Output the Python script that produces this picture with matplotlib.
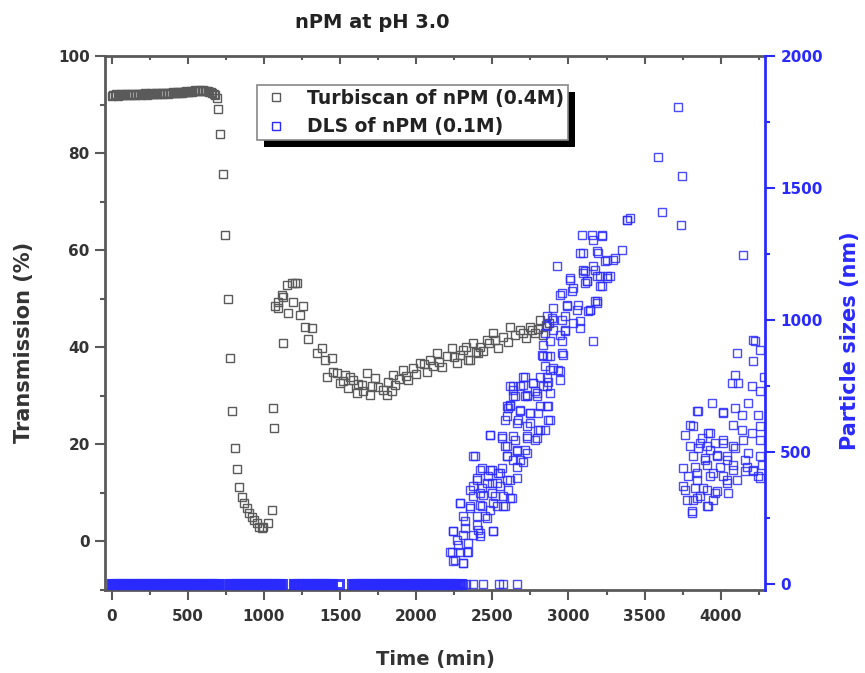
import matplotlib
matplotlib.use('Agg')
import matplotlib.pyplot as plt
from matplotlib.ticker import MultipleLocator
from matplotlib.patches import Rectangle
from matplotlib.lines import Line2D

plt.rcParams['font.family'] = ['DejaVu Sans']
plt.rcParams['font.weight'] = 'bold'

# ---------------- data ----------------
title = "nPM at pH 3.0"
xlabel = "Time (min)"
ylabel_left = "Transmission (%)"
ylabel_right = "Particle sizes (nm)"
legend_labels = ["Turbiscan of nPM (0.4M)", "DLS of nPM (0.1M)"]

# Turbiscan transmission (%) vs time (min)
turb_t = [0, 10, 20, 30, 40, 50, 60, 70, 80, 90, 100, 110, 120, 130, 140, 150, 160, 170, 180, 190,
          200, 210, 220, 230, 240, 250, 260, 270, 280, 290, 300, 310, 320, 330, 340, 350, 360, 370, 380, 390,
          400, 410, 420, 430, 440, 450, 460, 470, 480, 490, 500, 510, 520, 530, 540, 550, 560, 570, 580, 590,
          600, 610, 620, 630, 640, 650, 660, 670, 680,
          690, 700, 711, 729, 744, 762, 777, 792, 808, 821, 836, 854, 871, 887, 904, 920, 937, 952, 970, 985,
          996, 1029, 1051, 1062, 1066, 1073, 1094, 1094, 1117, 1123, 1127, 1149, 1160, 1182, 1193, 1204, 1219,
          1237, 1254, 1270, 1291, 1314, 1346, 1379, 1401, 1412, 1445, 1456, 1478, 1500, 1520, 1532, 1554,
          1565, 1587, 1609, 1620, 1642, 1653, 1675, 1697, 1710, 1729, 1751, 1780, 1806, 1817, 1840, 1850,
          1861, 1890, 1915, 1930, 1948, 1981, 2000, 2025, 2050, 2069, 2091, 2110, 2135, 2150, 2168, 2200,
          2233, 2250, 2266, 2290, 2310, 2330, 2342, 2353, 2375, 2390, 2408, 2419, 2440, 2463, 2480, 2506,
          2520, 2539, 2572, 2600, 2616, 2650, 2682, 2700, 2720, 2747, 2760, 2780, 2800, 2813, 2835, 2850, 2870]
turb_v = [91.8, 92.0, 91.9, 92.1, 91.8, 92.0, 92.1, 91.9, 92.0, 92.2, 91.9, 92.1, 92.0, 92.2, 92.0, 92.1,
          91.9, 92.2, 92.1, 92.0, 92.2, 92.1, 92.3, 92.0, 92.2, 92.1, 92.3, 92.2, 92.1, 92.3, 92.2, 92.4,
          92.1, 92.3, 92.2, 92.4, 92.3, 92.2, 92.4, 92.3, 92.5, 92.3, 92.4, 92.6, 92.3, 92.5, 92.4, 92.6,
          92.5, 92.7, 92.5, 92.6, 92.8, 92.6, 92.7, 92.9, 92.7, 92.8, 92.9, 92.8, 92.9, 92.7, 92.8, 92.7,
          92.6, 92.6, 92.4, 92.2, 91.9,
          91.3, 89.0, 83.9, 75.6, 63.1, 49.9, 37.7, 26.9, 19.3, 14.9, 11.3, 9.2, 8.0, 6.8, 5.8, 5.1, 4.4,
          3.7, 3.0, 2.7, 2.9, 3.7, 6.5, 27.4, 23.4, 48.4, 49.4, 48.0, 50.8, 40.8, 50.4, 52.8, 47.0, 53.2,
          49.4, 53.2, 53.2, 46.7, 48.4, 44.2, 41.8, 43.9, 38.8, 39.8, 37.4, 33.9, 37.7, 35.0, 34.6, 32.6,
          33.0, 34.3, 31.6, 33.8, 33.3, 30.5, 32.5, 32.2, 30.9, 34.6, 30.2, 32.0, 33.6, 31.9, 31.2, 30.2,
          32.9, 31.0, 34.3, 32.2, 33.5, 35.3, 34.0, 33.3, 35.7, 34.5, 36.7, 36.5, 35.0, 37.4, 36.2, 38.8,
          37.0, 36.0, 38.1, 39.8, 38.0, 36.7, 38.5, 39.4, 40.0, 37.4, 37.4, 40.8, 39.0, 38.8, 40.1, 39.3,
          41.5, 40.8, 42.9, 41.5, 39.8, 42.2, 41.0, 44.2, 42.5, 43.6, 43.0, 42.0, 44.2, 43.5, 42.9, 43.8,
          45.6, 42.5, 44.5, 45.0]

# DLS particle size (nm) vs time (min): samples recorded at 0 nm
dls_zero_t = [0, 10, 20, 30, 40, 50, 60, 70, 80, 90, 100, 110, 120, 130, 140, 150, 160, 170, 180, 190,
              200, 210, 220, 230, 240, 250, 260, 270, 280, 290, 300, 310, 320, 330, 340, 350, 360, 370, 380,
              390, 400, 410, 420, 430, 440, 450, 460, 470, 480, 490, 500, 510, 520, 530, 540, 550, 560, 570,
              580, 590, 600, 610, 620, 630, 640, 650, 660, 670, 680, 690, 700,
              766, 776, 786, 796, 806, 816, 826, 836, 846, 856, 866, 876, 886, 896, 906, 916, 926, 936, 946,
              956, 966, 976, 986, 996, 1006, 1016, 1026, 1036, 1046, 1056, 1066, 1076, 1086, 1096, 1106, 1116,
              1196, 1206, 1216, 1226, 1236, 1246, 1256, 1266, 1276, 1286, 1296, 1306, 1316, 1326, 1336, 1346,
              1356, 1366, 1376, 1386, 1396, 1406, 1416, 1426, 1436, 1446, 1495,
              1580, 1590, 1600, 1610, 1620, 1630, 1640, 1650, 1660, 1670, 1680, 1690, 1700, 1710, 1720, 1730,
              1740, 1750, 1760, 1770, 1780, 1790, 1800, 1810, 1820, 1830, 1840, 1850, 1860, 1870, 1880, 1890,
              1900, 1910, 1920, 1930, 1940, 1950, 1960, 1970, 1980, 1990, 2000, 2010, 2020, 2030, 2040, 2050,
              2060, 2070, 2080, 2090, 2100, 2110, 2120, 2130, 2140, 2150, 2160, 2170, 2180, 2190, 2200,
              2208, 2218, 2226, 2236, 2246, 2256, 2268, 2280, 2292]
dls_zero_nm = [0] * len(dls_zero_t)
# sparse 0 nm samples after the dense run
dls_zero2_t = [2308, 2330, 2375, 2437, 2546, 2568, 2660]
dls_zero2_nm = [0, 0, 0, 0, 0, 0, 0]

# DLS particle size (nm) vs time (min): growing particles
dls_t = [2244, 2309, 2233, 2277, 2331, 2244, 2309, 2375, 2419, 2506, 2320, 2397, 2452, 2288, 2353, 2419,
         2485, 2528, 2572, 2375, 2441, 2518, 2616, 2375, 2430, 2496, 2550, 2397, 2474, 2539, 2594, 2660,
         2430, 2496, 2561, 2375, 2605, 2485, 2561, 2594, 2594, 2638, 2704, 2660, 2715, 2649, 2726, 2791,
         2583, 2660, 2726, 2802, 2846, 2868, 2616, 2682, 2747, 2802, 2857, 2649, 2726, 2791, 2638, 2704,
         2769, 2868, 2605, 2594, 2638, 2704, 2780, 2715, 2835, 2879, 2813, 2879, 2944, 2857, 2966, 2835,
         2879, 2956, 2846, 2900, 2977, 3163, 2890, 2956, 3032, 3076, 2900, 2988, 3054, 3130, 3185, 2944,
         3021, 3010, 3098, 3185, 3251, 3207, 3109, 2923, 3076, 3185, 3251, 3306, 3350, 3163, 3087, 3153,
         3218, 3163, 3383, 2857, 2824, 2846,
         3722, 3586, 3744, 3404, 3383, 3612, 3739, 4145, 3218, 3098, 3196, 3295, 3240, 3109, 3175, 3251,
         3120, 3218, 3175, 3142, 4214,
         3185, 3142, 2956, 3032, 3120, 3207, 3273, 3010, 3098, 2988, 3065, 3076, 2900, 2977, 2944, 2857,
         2977, 2879, 2956, 2835, 2900, 2857, 2933, 2944, 2857, 2715, 2769, 2682, 2616, 2638, 2726, 2791,
         2813, 2868, 2879, 2616, 2682, 2747, 2594, 2671, 2747, 2813, 2485, 2561, 2638, 2726, 2780, 2583,
         2660, 2726, 2594, 2682, 2660, 2386,
         2419, 2485, 2550, 2397, 2463, 2528, 2616, 2353, 2419, 2496, 2572, 2627, 2288, 2353, 2430, 2506,
         2583, 2309, 2397, 2463, 2506, 2244, 2320, 2408, 2266, 2342, 2419, 2222, 2288, 2342, 2255, 2309,
         4225, 4105, 4258, 4214, 4071, 4115, 4093, 4285, 4204, 4258, 3941, 3853, 4017, 4093, 4138, 4182,
         4248, 4083, 4138, 4204, 4258, 4258, 4149, 3930, 3820, 4017, 4093, 4182, 4258, 4214, 4258, 4160,
         3930, 3864, 3897, 3974, 4039, 4083, 4039, 3952, 3842, 3886, 3963, 3820, 3908, 3809,
         3842, 4017, 3798, 3765, 3919, 3875, 3798, 3853, 3908, 3963, 4017, 4083, 3820, 3897, 3974, 4039,
         3754, 3831, 3908, 3996, 4083, 4170, 3787, 3842, 3930, 4017, 4105, 3765, 3831, 3908, 3974, 4050,
         3776, 3842, 3919, 3952, 3809, 4248, 4270, 4160, 4214, 3754, 3864, 4039]
dls_nm = [86, 80, 123, 149, 123, 199, 187, 187, 193, 199, 237, 225, 256, 307, 288, 300,
          281, 294, 294, 332, 338, 332, 326, 370, 364, 383, 370, 402, 408, 420, 395, 402,
          439, 433, 439, 483, 357, 566, 553, 521, 483, 471, 464, 502, 509, 547, 553, 553,
          622, 610, 597, 584, 584, 622, 679, 654, 648, 648, 673, 711, 717, 724, 749, 755,
          761, 767, 667, 673, 736, 786, 730, 711, 749, 724, 786, 812, 805, 862, 869, 906,
          919, 919, 951, 963, 957, 919, 1008, 1001, 989, 970, 1045, 1058, 1039, 1033, 1071, 1096,
          1108, 1153, 1178, 1165, 1159, 1127, 1140, 1203, 1254, 1260, 1228, 1235, 1266, 1203, 1323, 1323,
          1323, 1304, 1380, 1014, 869, 824,
          1805, 1616, 1547, 1386, 1380, 1408, 1358, 1247, 1317, 1254, 1254, 1228, 1222, 1184, 1191, 1165,
          1146, 1130, 1071, 1039, 925,
          1064, 1039, 1102, 1121, 1146, 1165, 1165, 1159, 1191, 1052, 1058, 995, 1001, 1014, 944, 976,
          963, 862, 875, 862, 818, 786, 812, 774, 749, 786, 761, 749, 749, 711, 711, 711,
          673, 673, 622, 673, 660, 648, 635, 622, 610, 584, 566, 559, 559, 559, 547, 521,
          509, 496, 483, 471, 445, 483,
          433, 433, 420, 395, 383, 383, 395, 357, 345, 345, 332, 326, 307, 294, 294, 307,
          294, 256, 256, 250, 199, 199, 212, 206, 168, 155, 180, 123, 123, 123, 92, 80,
          919, 875, 888, 843, 761, 761, 793, 786, 749, 730, 686, 654, 650, 667, 641, 686,
          641, 603, 584, 572, 597, 547, 547, 572, 597, 534, 515, 496, 483, 433, 402, 471,
          509, 534, 471, 483, 471, 433, 395, 420, 420, 364, 345, 319, 294, 269,
          654, 648, 603, 566, 572, 553, 521, 515, 521, 534, 547, 521, 483, 477, 490, 483,
          439, 445, 452, 445, 452, 445, 408, 395, 408, 408, 395, 357, 364, 357, 351, 345,
          319, 326, 294, 319, 275, 408, 452, 427, 427, 370, 332, 383]

# ---------------- figure ----------------
W, H = 865, 673
fig = plt.figure(figsize=(W / 100, H / 100), dpi=100)
L, R, T, B = 105, 765, 56, 590
ax = fig.add_axes([L / W, 1 - B / H, (R - L) / W, (B - T) / H])
ax2 = ax.twinx()

gray = '#5a5a5a'
blue = '#2a2aff'
dark = '#333333'
ms = 6.3

ax.plot(turb_t, turb_v, ls='none', marker='s', ms=ms, mfc='none', mec=gray, mew=1.0, zorder=3)
ax2.plot(dls_zero_t, dls_zero_nm, ls='none', marker='s', ms=ms, mfc='none', mec=blue, mew=2.2,
         alpha=0.9, zorder=3)
ax2.plot(dls_zero2_t, dls_zero2_nm, ls='none', marker='s', ms=ms, mfc='none', mec=blue, mew=1.0,
         alpha=0.85, zorder=3)
ax2.plot(dls_t, dls_nm, ls='none', marker='s', ms=ms, mfc='none', mec=blue, mew=1.0,
         alpha=0.85, zorder=3)

ax.set_xlim(-44, 4291)
ax.set_ylim(-10, 100)
ax2.set_ylim(-22.7, 2000)

ax.xaxis.set_major_locator(MultipleLocator(500))
ax.xaxis.set_minor_locator(MultipleLocator(250))
ax.yaxis.set_major_locator(MultipleLocator(20))
ax.yaxis.set_minor_locator(MultipleLocator(10))
ax2.yaxis.set_major_locator(MultipleLocator(500))
ax2.yaxis.set_minor_locator(MultipleLocator(250))

for s in ['left', 'bottom', 'top']:
    ax.spines[s].set_color(gray)
    ax.spines[s].set_linewidth(2)
ax.spines['right'].set_visible(False)
for s in ['left', 'bottom', 'top']:
    ax2.spines[s].set_visible(False)
ax2.spines['right'].set_color(blue)
ax2.spines['right'].set_linewidth(2)

ax.tick_params(axis='both', which='major', direction='out', length=7, width=1.5, color=gray,
               labelsize=11, labelcolor=dark, pad=4)
ax.tick_params(axis='x', which='major', pad=7)
ax.tick_params(axis='both', which='minor', direction='out', length=3.5, width=1.5, color=gray)
ax2.tick_params(axis='y', which='major', direction='out', length=7, width=1.5, color=blue,
                labelsize=11, labelcolor=blue, pad=4)
ax2.tick_params(axis='y', which='minor', direction='out', length=3.5, width=1.5, color=blue)

sec = ax.secondary_xaxis('top')
sec.xaxis.set_major_locator(MultipleLocator(500))
sec.xaxis.set_minor_locator(MultipleLocator(250))
sec.tick_params(which='major', direction='in', length=6, width=1.5, color=gray, labeltop=False)
sec.tick_params(which='minor', direction='in', length=3, width=1.5, color=gray)
sec.spines['top'].set_visible(False)

for lab in ax.get_xticklabels() + ax.get_yticklabels() + ax2.get_yticklabels():
    lab.set_fontweight('bold')

fig.text(372 / W, 1 - 22 / H, title, ha='center', va='center', fontsize=14, fontweight='bold', color='#222222')
fig.text(435 / W, 1 - 660 / H, xlabel, ha='center', va='center', fontsize=14, fontweight='bold', color=dark)
fig.text(24 / W, 1 - 342 / H, ylabel_left, ha='center', va='center', rotation=90, fontsize=15,
         fontweight='bold', color=dark)
fig.text(850 / W, 1 - 341 / H, ylabel_right, ha='center', va='center', rotation=90, fontsize=15,
         fontweight='bold', color=blue)

handles = [Line2D([], [], ls='none', marker='s', ms=ms, mfc='none', mec=gray, mew=1.0),
           Line2D([], [], ls='none', marker='s', ms=ms, mfc='none', mec=blue, mew=1.0)]
leg = fig.legend(handles, legend_labels, loc='upper left', bbox_to_anchor=(257 / W, 1 - 85 / H),
                 bbox_transform=fig.transFigure, frameon=True, fancybox=False, framealpha=1,
                 edgecolor='#888888', fontsize=13.5, handlelength=1.6, handletextpad=0.88,
                 borderpad=0.2, labelspacing=0.5, borderaxespad=0)
leg.get_frame().set_linewidth(1.2)
for t in leg.get_texts():
    t.set_fontweight('bold')
    t.set_color('#222222')
leg.set_zorder(10)

fig.canvas.draw()
bb = leg.get_window_extent()
off = 7
shadow = Rectangle((bb.x0 + off, bb.y0 - off), bb.width, bb.height, transform=None,
                   facecolor='black', edgecolor='none', zorder=9)
fig.patches.append(shadow)
shadow.set_figure(fig)

fig.savefig('out.png', dpi=100)
